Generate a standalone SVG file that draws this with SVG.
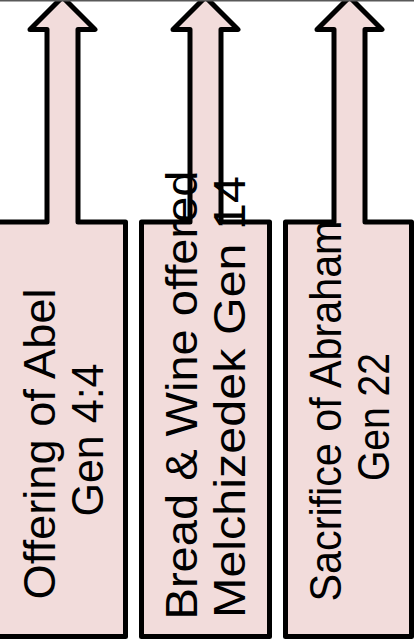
<svg xmlns="http://www.w3.org/2000/svg" width="414" height="641" viewBox="0 0 414 641">
<style>
.arrow{fill:#f2dcdb;stroke:#000;stroke-width:5;stroke-linejoin:round}
.t{font-family:"Liberation Sans",Arial,sans-serif;font-size:44px;fill:#000;text-anchor:middle}
</style>
<rect x="0" y="0" width="414" height="641" fill="#fff"/>
<g id="node-abel">
<path class="arrow" d="M-2.5,636.5 L-2.5,222 L47,222 L47,29.5 L30,29.5 L62.5,-3 L95,29.5 L78,29.5 L78,222 L125.5,222 L125.5,636.5 Z"/>
<text class="t" transform="translate(55,444) rotate(-90)" textLength="311" lengthAdjust="spacingAndGlyphs">Offering of Abel</text>
<text class="t" transform="translate(103,440) rotate(-90)" textLength="153" lengthAdjust="spacingAndGlyphs">Gen 4:4</text>
</g>
<g id="node-melchizedek">
<path class="arrow" d="M141.5,636.5 L141.5,222 L190,222 L190,29.5 L173,29.5 L205.5,-3 L238,29.5 L221,29.5 L221,222 L269.5,222 L269.5,636.5 Z"/>
<text class="t" transform="translate(197,395) rotate(-90)" textLength="449" lengthAdjust="spacingAndGlyphs">Bread &amp; Wine offered</text>
<text class="t" transform="translate(245,397) rotate(-90)" textLength="442" lengthAdjust="spacingAndGlyphs">Melchizedek Gen 14</text>
</g>
<g id="node-abraham">
<path class="arrow" d="M285.5,636.5 L285.5,222 L334,222 L334,29.5 L317,29.5 L349.5,-3 L382,29.5 L365,29.5 L365,222 L411.5,222 L411.5,636.5 Z"/>
<text class="t" transform="translate(341,411) rotate(-90)" textLength="381" lengthAdjust="spacingAndGlyphs">Sacrifice of Abraham</text>
<text class="t" transform="translate(389,417) rotate(-90)" textLength="128" lengthAdjust="spacingAndGlyphs">Gen 22</text>
</g>
<g id="connectors"></g>
<line x1="0" y1="0.75" x2="414" y2="0.75" stroke="#595959" stroke-width="1.5"/>
</svg>
